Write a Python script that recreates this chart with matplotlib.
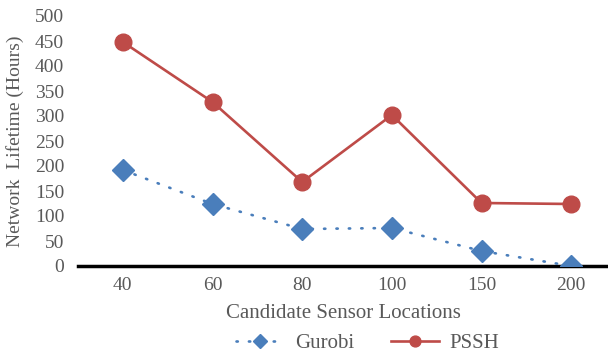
import matplotlib.pyplot as plt
import numpy as np

# Data
locations = ["40", "60", "80", "100", "150", "200"]
gurobi = [192, 124, 74, 76, 30, 0]
pssh = [448, 328, 168, 302, 126, 124]

blue = "#4a7ebb"
red = "#be4b48"
gray = "#595959"

plt.rcParams['font.family'] = ['Liberation Serif', 'DejaVu Serif']

fig = plt.figure(figsize=(6.08, 3.52), dpi=100)
ax = fig.add_axes([78 / 608, 86 / 352, 1 - 78 / 608, 250 / 352])

x = np.arange(len(locations))
ax.plot(x, gurobi, color=blue, linestyle=(0, (0.5, 4.2)), linewidth=1.9,
        dash_capstyle='round', marker='D', markersize=11,
        markerfacecolor=blue, markeredgecolor=blue, label="Gurobi", zorder=3)
ax.plot(x, pssh, color=red, linewidth=1.9, marker='o', markersize=12,
        markerfacecolor=red, markeredgecolor=red, label="PSSH", zorder=3)

ax.set_xlim(-0.5, 5.41)
ax.set_ylim(0, 500)
ax.set_yticks(range(0, 501, 50))
ax.set_xticks(x)
ax.set_xticklabels(locations)
ax.tick_params(axis='both', length=0, labelsize=14, colors=gray, pad=8)
ax.tick_params(axis='y', pad=10)

for side in ['top', 'right', 'left']:
    ax.spines[side].set_visible(False)
ax.spines['bottom'].set_color('black')
ax.spines['bottom'].set_linewidth(2.5)
ax.spines['bottom'].set_zorder(2)

ax.set_xlabel("Candidate Sensor Locations", fontsize=15, color=gray, labelpad=7)
ax.set_ylabel("Network  Lifetime (Hours)", fontsize=14, color=gray, labelpad=8)

fig.legend(loc='lower center', bbox_to_anchor=(0.605, -0.045), ncol=2,
           frameon=False, fontsize=15, labelcolor=gray, handlelength=2.3,
           columnspacing=1.8, handletextpad=0.5, markerscale=0.65,
           borderaxespad=0.3)

fig.savefig("out.png", dpi=100)
